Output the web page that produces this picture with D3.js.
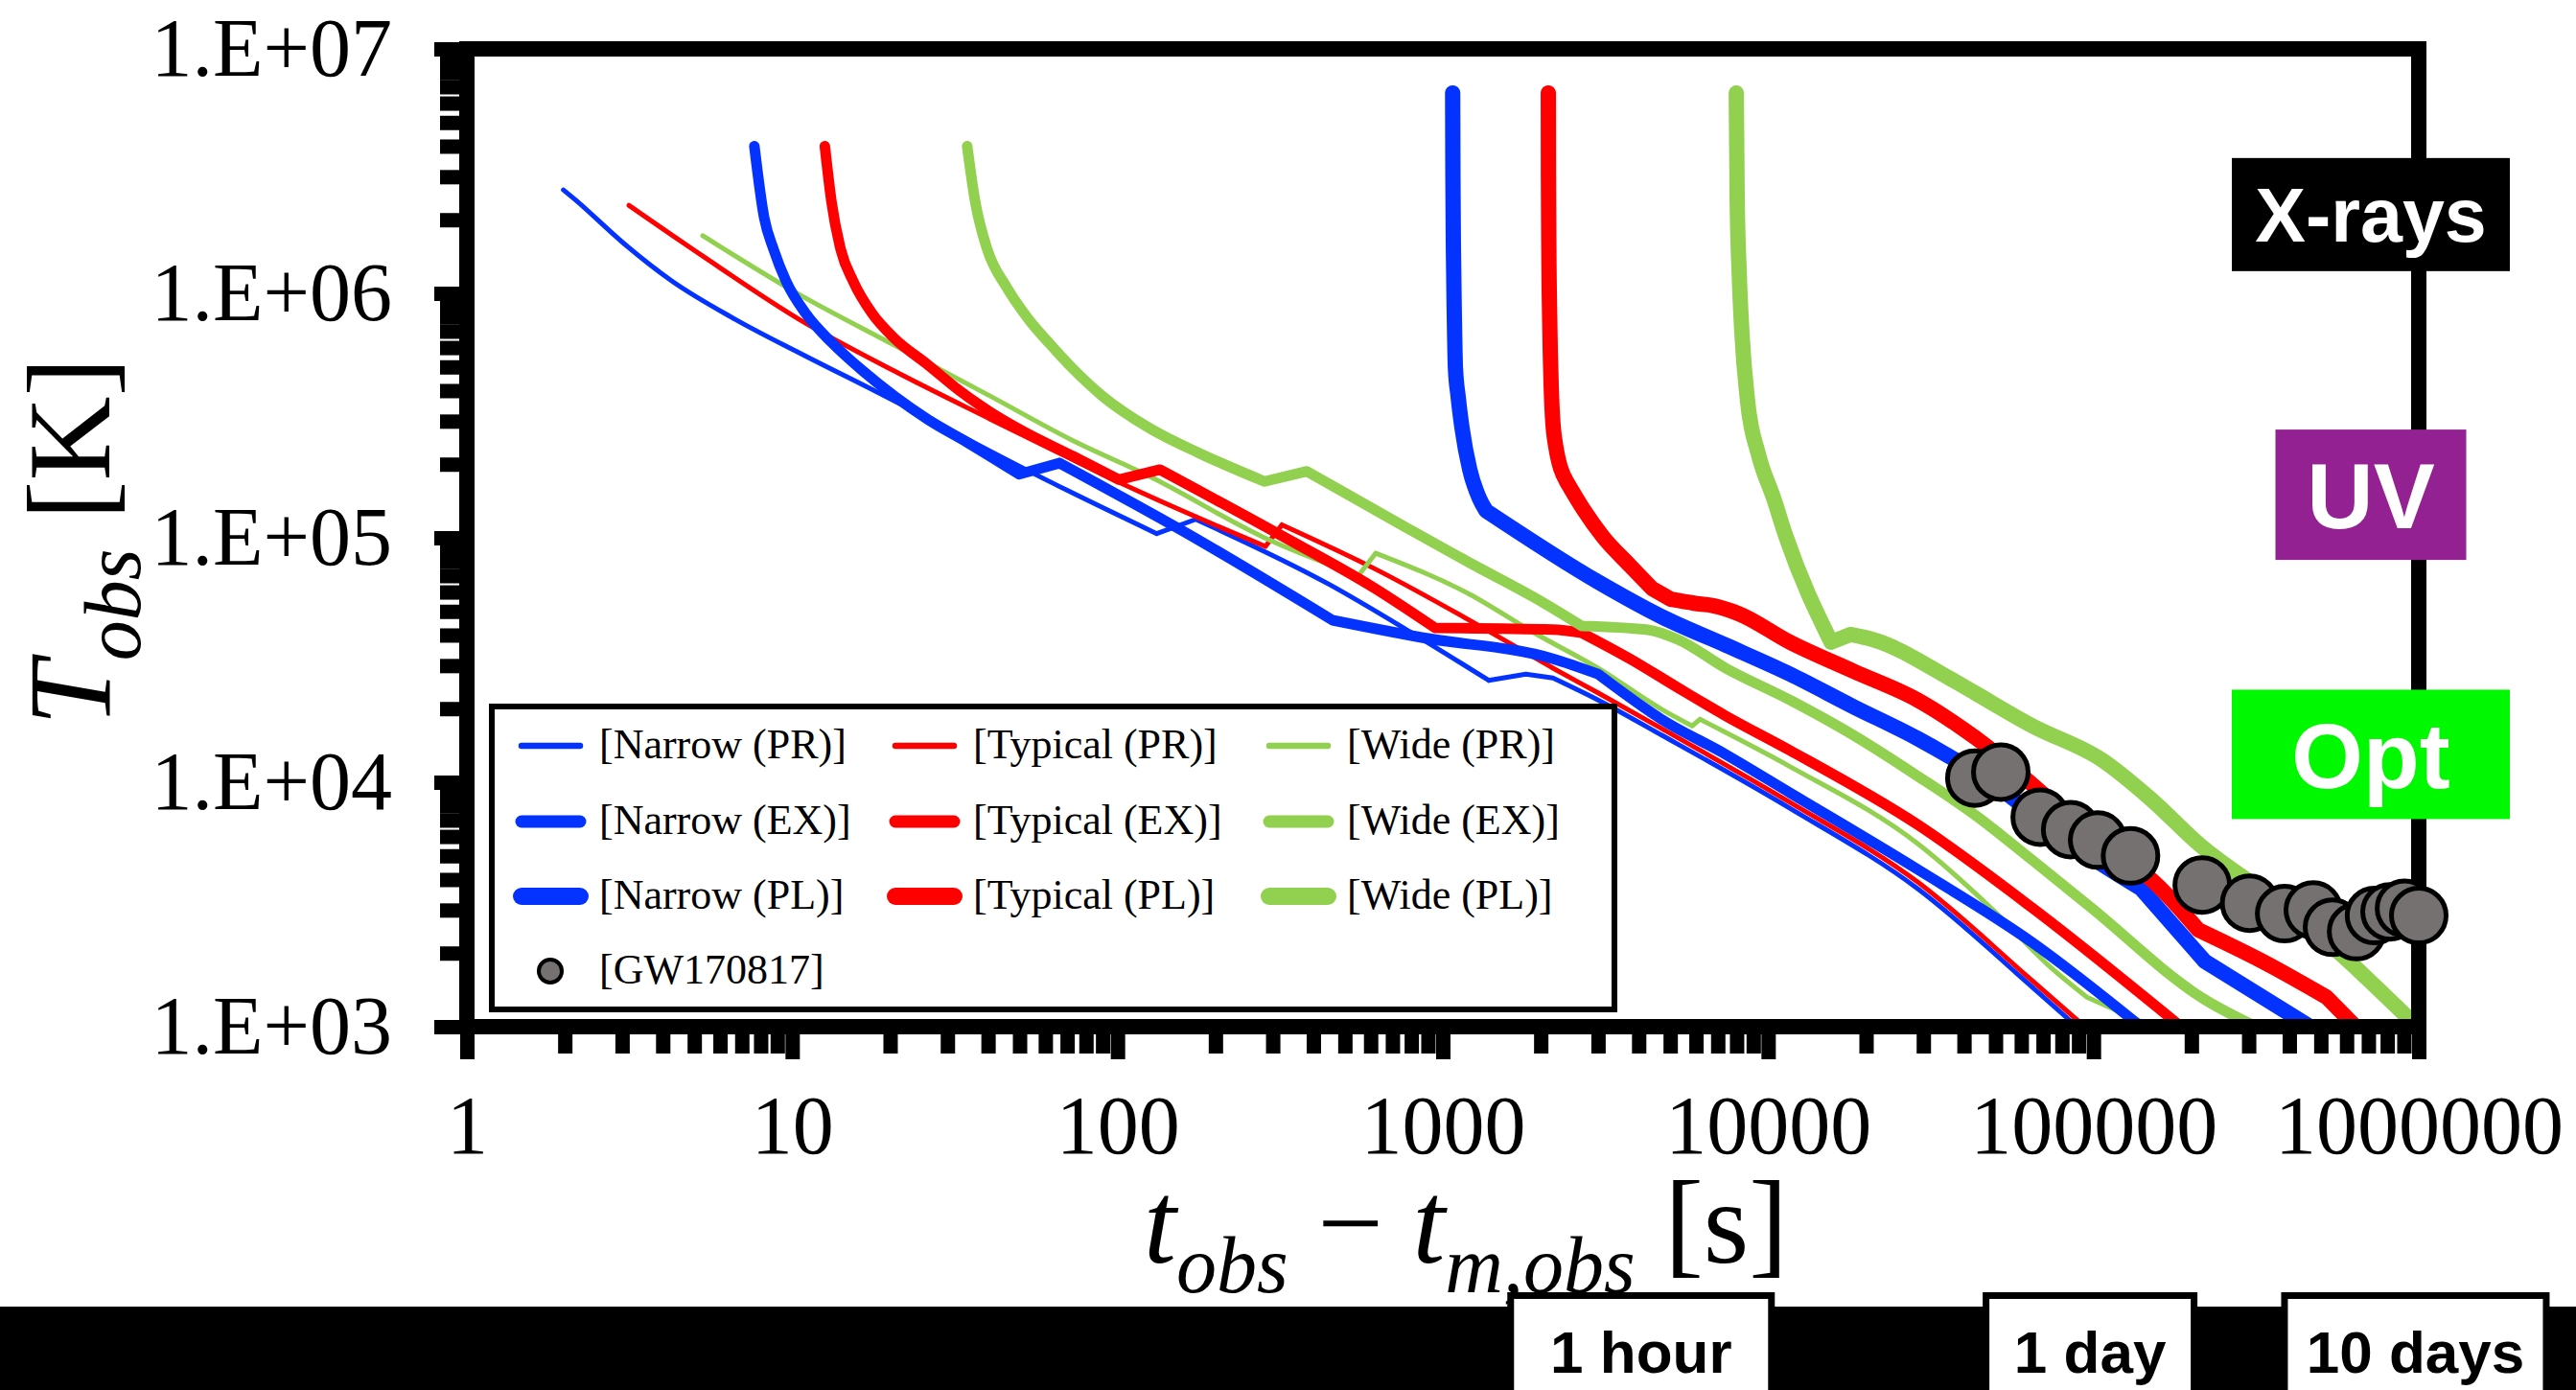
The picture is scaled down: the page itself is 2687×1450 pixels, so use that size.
<!DOCTYPE html>
<html>
<head>
<meta charset="utf-8">
<script src="https://cdn.jsdelivr.net/npm/d3@7"></script>
<style>
	body { margin: 0; background: #ffffff; }
	svg { display: block; }
</style>
</head>
<body>
<script>

//each series is a list of [t_obs - t_m,obs (s), T_obs (K)]
let narrowPR = [[1.98, 2.65e6], [2.15, 2.42e6], [3.02, 1.61e6], [4.24, 1.13e6], [6.68, 7.83e5], [10.5, 5.71e5],
	[18, 3.98e5], [64, 1.66e5], [132, 1.04e5], [174, 1.19e5], [449, 6.43e4], [773, 4.21e4], [1384, 2.61e4],
	[1800, 2.77e4], [2180, 2.67e4], [3000, 2.17e4], [4700, 1.56e4], [11660, 7.83e3], [28800, 3.67e3],
	[64900, 1.45e3], [89000, 1e3]];
let typicalPR = [[3.15, 2.29e6], [5.31, 1.42e6], [10.5, 7.83e5], [20.6, 4.81e5], [40.6, 3.06e5], [73.3, 2.08e5],
	[101, 1.69e5], [285, 9.22e4], [320, 1.13e5], [614, 7.5e4], [1358, 4.21e4], [2180, 2.93e4], [3000, 2.32e4],
	[4700, 1.66e4], [11660, 8.28e3], [28800, 3.91e3], [64900, 1.54e3], [94000, 1e3]];
let widePR = [[5.31, 1.72e6], [10.5, 9.9e5], [20.6, 6.14e5], [40.6, 3.8e5], [73.3, 2.49e5], [126, 1.78e5],
	[279, 1.01e5], [550, 7.0e4], [622, 8.65e4], [1210, 5.87e4], [1905, 4.09e4], [3000, 2.93e4], [4700, 1.99e4],
	[5840, 1.70e4], [6170, 1.81e4], [11660, 1.16e4], [28800, 5.61e3], [50500, 2.9e3], [72800, 1.78e3],
	[95500, 1.32e3], [152000, 1e3]];

let narrowEX = [[7.65, 4.0e6], [8.2, 2.04e6], [8.77, 1.51e6], [9.58, 1.12e6], [11.0, 8.28e5], [13.2, 6.31e5],
	[16.5, 4.81e5], [20.6, 3.8e5], [26.0, 3.06e5], [34.8, 2.44e5], [49.8, 1.82e5], [66.3, 2.02e5], [158, 1.07e5],
	[458, 4.6e4], [861, 3.91e4], [2180, 3.2e4], [3000, 2.77e4], [4700, 1.81e4], [7400, 1.3e4], [11660, 9.06e3],
	[28800, 4.4e3], [64900, 2.21e3], [140000, 1e3]];
let typicalEX = [[12.6, 4.0e6], [13.2, 2.38e6], [14.1, 1.51e6], [15.4, 1.12e6], [17.6, 8.28e5], [20.6, 6.55e5],
	[26.0, 5.13e5], [32.5, 4.02e5], [40.6, 3.27e5], [51.2, 2.73e5], [73.3, 2.15e5], [101, 1.73e5], [135, 1.9e5],
	[311, 1.04e5], [614, 6.25e4], [947, 4.28e4], [2180, 4.21e4], [2670, 4.09e4], [3760, 3.2e4], [5270, 2.44e4],
	[7400, 1.87e4], [11660, 1.35e4], [28800, 6.71e3], [64900, 3.06e3], [186000, 1e3]];
let wideEX = [[34.5, 4.0e6], [36.5, 2.38e6], [39.8, 1.51e6], [45.6, 1.06e6], [53.3, 7.83e5], [62, 6.2e5],
	[72, 5.0e5], [89.9, 3.8e5], [126, 2.8e5], [177, 2.23e5], [283, 1.70e5], [382, 1.87e5], [773, 1.10e5],
	[1210, 7.9e4], [1905, 5.71e4], [2670, 4.36e4], [4220, 4.21e4], [5270, 3.84e4], [7400, 2.93e4],
	[11660, 2.17e4], [18250, 1.56e4], [28800, 1.06e4], [43200, 7.36e3], [64900, 4.8e3], [97500, 3.1e3],
	[220000, 1.29e3], [316000, 1e3]];

let narrowPL = [[1072, 6.6e6], [1074, 3e6], [1078, 1.5e6], [1085, 8e5], [1093, 5e5], [1114, 3.8e5], [1146, 2.8e5],
	[1210, 1.9e5], [1295, 1.45e5], [1358, 1.29e5], [3000, 6.6e4], [4700, 4.76e4], [7400, 3.64e4], [11660, 2.77e4],
	[18250, 2.04e4], [28800, 1.51e4], [50500, 9.6e3], [85100, 5.61e3], [140000, 3.67e3], [220000, 1.85e3],
	[464000, 1e3]];
let typicalPL = [[2110, 6.6e6], [2112, 3e6], [2118, 1.5e6], [2130, 8e5], [2153, 4.2e5], [2200, 2.6e5], [2400, 1.7e5],
	[2711, 1.3e5], [3105, 1.01e5], [3760, 7.7e4], [4400, 6.2e4], [5030, 5.6e4], [5920, 5.4e4], [6780, 5.27e4],
	[8090, 4.9e4], [11660, 3.74e4], [18250, 2.85e4], [28800, 2.17e4], [44000, 1.5e4], [85100, 7.17e3],
	[168000, 3.47e3], [210000, 2.49e3], [331000, 1.85e3], [521000, 1.32e3], [640000, 1e3]];
let widePL = [[7980, 6.6e6], [8030, 2.5e6], [8150, 1.2e6], [8300, 7e5], [8650, 3.6e5], [9330, 2.2e5], [10400, 1.45e5],
	[11350, 1.01e5], [15620, 3.74e4], [17900, 4.02e4], [20900, 3.84e4], [36000, 2.67e4], [43200, 2.32e4],
	[64900, 1.7e4], [106600, 1.23e4], [149600, 8.57e3], [210000, 5.61e3], [414000, 2.9e3], [960000, 1.04e3]];

//GW170817 observed temperatures
let gwTime = [43200, 51900, 68600, 85100, 103000, 130000, 216000, 302000, 387000, 474000, 543000, 644000, 731000,
	816000, 904000, 1000000];
let gwTemp = [1.04e4, 1.10e4, 7.2e3, 6.4e3, 5.8e3, 5.0e3, 3.8e3, 3.2e3, 2.9e3, 3.0e3, 2.55e3, 2.45e3, 2.85e3,
	2.95e3, 3.05e3, 2.85e3];

let jets = ["Narrow", "Typical", "Wide"];
let models = ["PR", "EX", "PL"];

let xTicks = [1, 10, 100, 1000, 10000, 100000, 1000000];
let xTickLabels = ["1", "10", "100", "1000", "10000", "100000", "1000000"];
let yTicks = [1e3, 1e4, 1e5, 1e6, 1e7];
let yTickLabels = ["1.E+03", "1.E+04", "1.E+05", "1.E+06", "1.E+07"];

//wavelength bands on the right, placed at a typical temperature
let bandNames = ["X-rays", "UV", "Opt"];
let bandTemps = [2.1e6, 1.5e5, 1.3e4];

//time marks in the strip below the chart
let markTimes = [3600, 86400, 864000];
let markLabels = ["1 hour", "1 day", "10 days"];

/* ---------------- drawing ---------------- */

let serif = "'Liberation Serif', 'Times New Roman', Times, serif";
let sans = "'Liberation Sans', Arial, Helvetica, sans-serif";

let jetColor = { Narrow: "#0433FF", Typical: "#FF0000", Wide: "#92D050" };
let lineWidth = { PR: 5, EX: 11, PL: 16 };
let legendWidth = { PR: 6.5, EX: 13, PL: 18 };

let svg = d3.select("body").append("svg")
	.attr("width", 2687)
	.attr("height", 1450);

let width = +svg.attr("width");
let height = +svg.attr("height");

let margin = { top: 51, right: 164, bottom: 379, left: 487 };
let innerWidth = width - margin.left - margin.right;
let innerHeight = height - margin.top - margin.bottom;
let frameW = 16;

let x = d3.scaleLog()
	.domain([1, 1e6])
	.range([margin.left, margin.left + innerWidth]);

let y = d3.scaleLog()
	.domain([1e3, 1e7])
	.range([margin.top + innerHeight, margin.top]);

//series table: legend order is row by row (PR, EX, PL), three jets per row
let seriesData = [narrowPR, typicalPR, widePR, narrowEX, typicalEX, wideEX, narrowPL, typicalPL, widePL];
let series = seriesData.map((values, i) => ({
	jet: jets[i % 3],
	model: models[Math.floor(i / 3)],
	values: values
}));

svg.append("defs").append("clipPath")
	.attr("id", "plot-clip")
	.append("rect")
	.attr("x", margin.left)
	.attr("y", margin.top)
	.attr("width", innerWidth)
	.attr("height", innerHeight);

let line = d3.line()
	.x(d => x(d[0]))
	.y(d => y(d[1]))
	.curve(d3.curveMonotoneX);

//smooth between points, but keep the sharp kinks (bumps and sudden bends) of the model curves
function kinkedPath(values) {
	let pts = values.map(d => [x(d[0]), y(d[1])]);
	let breaks = [0];
	for (let i = 1; i < pts.length - 1; i++) {
		let a1 = Math.atan2(pts[i][1] - pts[i - 1][1], pts[i][0] - pts[i - 1][0]);
		let a2 = Math.atan2(pts[i + 1][1] - pts[i][1], pts[i + 1][0] - pts[i][0]);
		let turn = Math.abs(a2 - a1) * 180 / Math.PI;
		let extremum = (pts[i][1] - pts[i - 1][1]) * (pts[i + 1][1] - pts[i][1]) < 0;
		if (extremum || turn > 15) breaks.push(i);
	}
	breaks.push(pts.length - 1);

	let path = "";
	for (let k = 0; k < breaks.length - 1; k++) {
		path += line(values.slice(breaks[k], breaks[k + 1] + 1));
	}
	return path;
}

svg.append("g")
	.attr("clip-path", "url(#plot-clip)")
	.selectAll("path")
	.data(series)
	.enter().append("path")
	.attr("d", d => kinkedPath(d.values))
	.attr("fill", "none")
	.attr("stroke", d => jetColor[d.jet])
	.attr("stroke-width", d => lineWidth[d.model])
	.attr("stroke-linecap", "round")
	.attr("stroke-linejoin", "round");

//minor ticks for every decade
let xMinor = d3.range(0, 6).flatMap(e => d3.range(2, 10).map(k => k * Math.pow(10, e)));
let yMinor = d3.range(3, 7).flatMap(e => d3.range(2, 10).map(k => k * Math.pow(10, e)));

function styleAxis(g) {
	g.select(".domain").remove();
	g.selectAll(".tick line")
		.attr("stroke", "#000")
		.attr("stroke-width", 15);
	g.selectAll(".tick text")
		.attr("fill", "#000")
		.attr("font-family", serif)
		.attr("font-size", 86);
}

function dropText(g) {
	g.selectAll(".tick text").remove();
}

let xAxisY = margin.top + innerHeight + frameW / 2;
let yAxisX = margin.left - frameW / 2;

svg.append("g")
	.attr("transform", `translate(0, ${xAxisY})`)
	.call(d3.axisBottom(x).tickValues(xMinor).tickSize(20))
	.call(styleAxis)
	.call(dropText);

svg.append("g")
	.attr("transform", `translate(0, ${xAxisY})`)
	.call(d3.axisBottom(x).tickValues(xTicks).tickSize(26).tickPadding(37)
		.tickFormat((d, i) => xTickLabels[i]))
	.call(styleAxis);

svg.append("g")
	.attr("transform", `translate(${yAxisX}, 0)`)
	.call(d3.axisLeft(y).tickValues(yMinor).tickSize(20))
	.call(styleAxis)
	.call(dropText);

svg.append("g")
	.attr("transform", `translate(${yAxisX}, 0)`)
	.call(d3.axisLeft(y).tickValues(yTicks).tickSize(26).tickPadding(44)
		.tickFormat((d, i) => yTickLabels[i]))
	.call(styleAxis);

//plot frame
svg.append("rect")
	.attr("x", margin.left)
	.attr("y", margin.top)
	.attr("width", innerWidth)
	.attr("height", innerHeight)
	.attr("fill", "none")
	.attr("stroke", "#000")
	.attr("stroke-width", frameW);

//legend
let legend = svg.append("g");

legend.append("rect")
	.attr("x", 513)
	.attr("y", 737)
	.attr("width", 1171)
	.attr("height", 316)
	.attr("fill", "#fff")
	.attr("stroke", "#000")
	.attr("stroke-width", 6);

let colX = [574, 964, 1354];
let rowY = [778, 857, 935, 1013];

let items = legend.selectAll("g.item")
	.data(series)
	.enter().append("g")
	.attr("class", "item")
	.attr("transform", (d, i) => `translate(${colX[i % 3]}, ${rowY[Math.floor(i / 3)]})`);

items.append("line")
	.attr("x1", -30)
	.attr("x2", 31)
	.attr("stroke", d => jetColor[d.jet])
	.attr("stroke-width", d => legendWidth[d.model])
	.attr("stroke-linecap", "round");

items.append("text")
	.attr("x", 51)
	.attr("y", 13)
	.attr("font-family", serif)
	.attr("font-size", 44)
	.text(d => "[" + d.jet + " (" + d.model + ")]");

let gwItem = legend.append("g")
	.attr("transform", `translate(${colX[0]}, ${rowY[3]})`);

gwItem.append("circle")
	.attr("r", 12)
	.attr("fill", "#767171")
	.attr("stroke", "#000")
	.attr("stroke-width", 4);

gwItem.append("text")
	.attr("x", 51)
	.attr("y", 13)
	.attr("font-family", serif)
	.attr("font-size", 44)
	.text("[GW170817]");

//observed points
svg.append("g")
	.selectAll("circle")
	.data(gwTime)
	.enter().append("circle")
	.attr("cx", d => x(d))
	.attr("cy", (d, i) => y(gwTemp[i]))
	.attr("r", 28.5)
	.attr("fill", "#767171")
	.attr("stroke", "#000")
	.attr("stroke-width", 5);

//band boxes at the right edge
let bandFill = ["#000000", "#942192", "#00F900"];
let bandBox = [[290, 118, 79], [199, 136, 96], [290, 135, 96]]; //width, height, font size
let bandX = margin.left + innerWidth - 50;

let bands = svg.append("g")
	.selectAll("g")
	.data(bandNames)
	.enter().append("g")
	.attr("transform", (d, i) => `translate(${bandX}, ${y(bandTemps[i])})`);

bands.append("rect")
	.attr("x", (d, i) => -bandBox[i][0] / 2)
	.attr("y", (d, i) => -bandBox[i][1] / 2)
	.attr("width", (d, i) => bandBox[i][0])
	.attr("height", (d, i) => bandBox[i][1])
	.attr("fill", (d, i) => bandFill[i]);

bands.append("text")
	.attr("text-anchor", "middle")
	.attr("y", (d, i) => bandBox[i][2] * 0.36)
	.attr("font-family", sans)
	.attr("font-weight", "bold")
	.attr("font-size", (d, i) => bandBox[i][2])
	.attr("fill", "#fff")
	.text(d => d);

//axis titles
let xTitle = svg.append("text")
	.attr("x", margin.left + innerWidth / 2 + 24)
	.attr("y", 1317)
	.attr("text-anchor", "middle")
	.attr("font-family", serif)
	.attr("font-size", 122)
	.style("white-space", "pre");

xTitle.append("tspan").attr("font-style", "italic").text("t");
xTitle.append("tspan").attr("font-style", "italic").attr("font-size", 84).attr("dy", 31).text("obs");
xTitle.append("tspan").attr("dy", -31).text(" \u2212 ");
xTitle.append("tspan").attr("font-style", "italic").text("t");
xTitle.append("tspan").attr("font-style", "italic").attr("font-size", 84).attr("dy", 31).text("m,obs");
xTitle.append("tspan").attr("dy", -31).text(" [s]");

let yTitle = svg.append("text")
	.attr("transform", `translate(114, ${margin.top + innerHeight / 2 + 4}) rotate(-90)`)
	.attr("text-anchor", "middle")
	.attr("font-family", serif)
	.attr("font-size", 122)
	.style("white-space", "pre");

yTitle.append("tspan").attr("font-style", "italic").text("T");
yTitle.append("tspan").attr("font-style", "italic").attr("font-size", 84).attr("dy", 32).text("obs");
yTitle.append("tspan").attr("dy", -32).text(" [K]");

//time strip at the bottom
let stripTop = 1363;

svg.append("rect")
	.attr("x", 0)
	.attr("y", stripTop)
	.attr("width", width)
	.attr("height", height - stripTop)
	.attr("fill", "#000");

let markBoxW = [272, 217, 273];

let marks = svg.append("g")
	.selectAll("g")
	.data(markTimes)
	.enter().append("g")
	.attr("transform", d => `translate(${x(d) + 18}, 0)`);

marks.append("rect")
	.attr("x", (d, i) => -markBoxW[i] / 2)
	.attr("y", stripTop - 11.5)
	.attr("width", (d, i) => markBoxW[i])
	.attr("height", 140)
	.attr("fill", "#fff")
	.attr("stroke", "#000")
	.attr("stroke-width", 7);

marks.append("text")
	.attr("text-anchor", "middle")
	.attr("y", 1432)
	.attr("font-family", sans)
	.attr("font-weight", "bold")
	.attr("font-size", 62)
	.attr("fill", "#000")
	.text((d, i) => markLabels[i]);

</script>
</body>
</html>
